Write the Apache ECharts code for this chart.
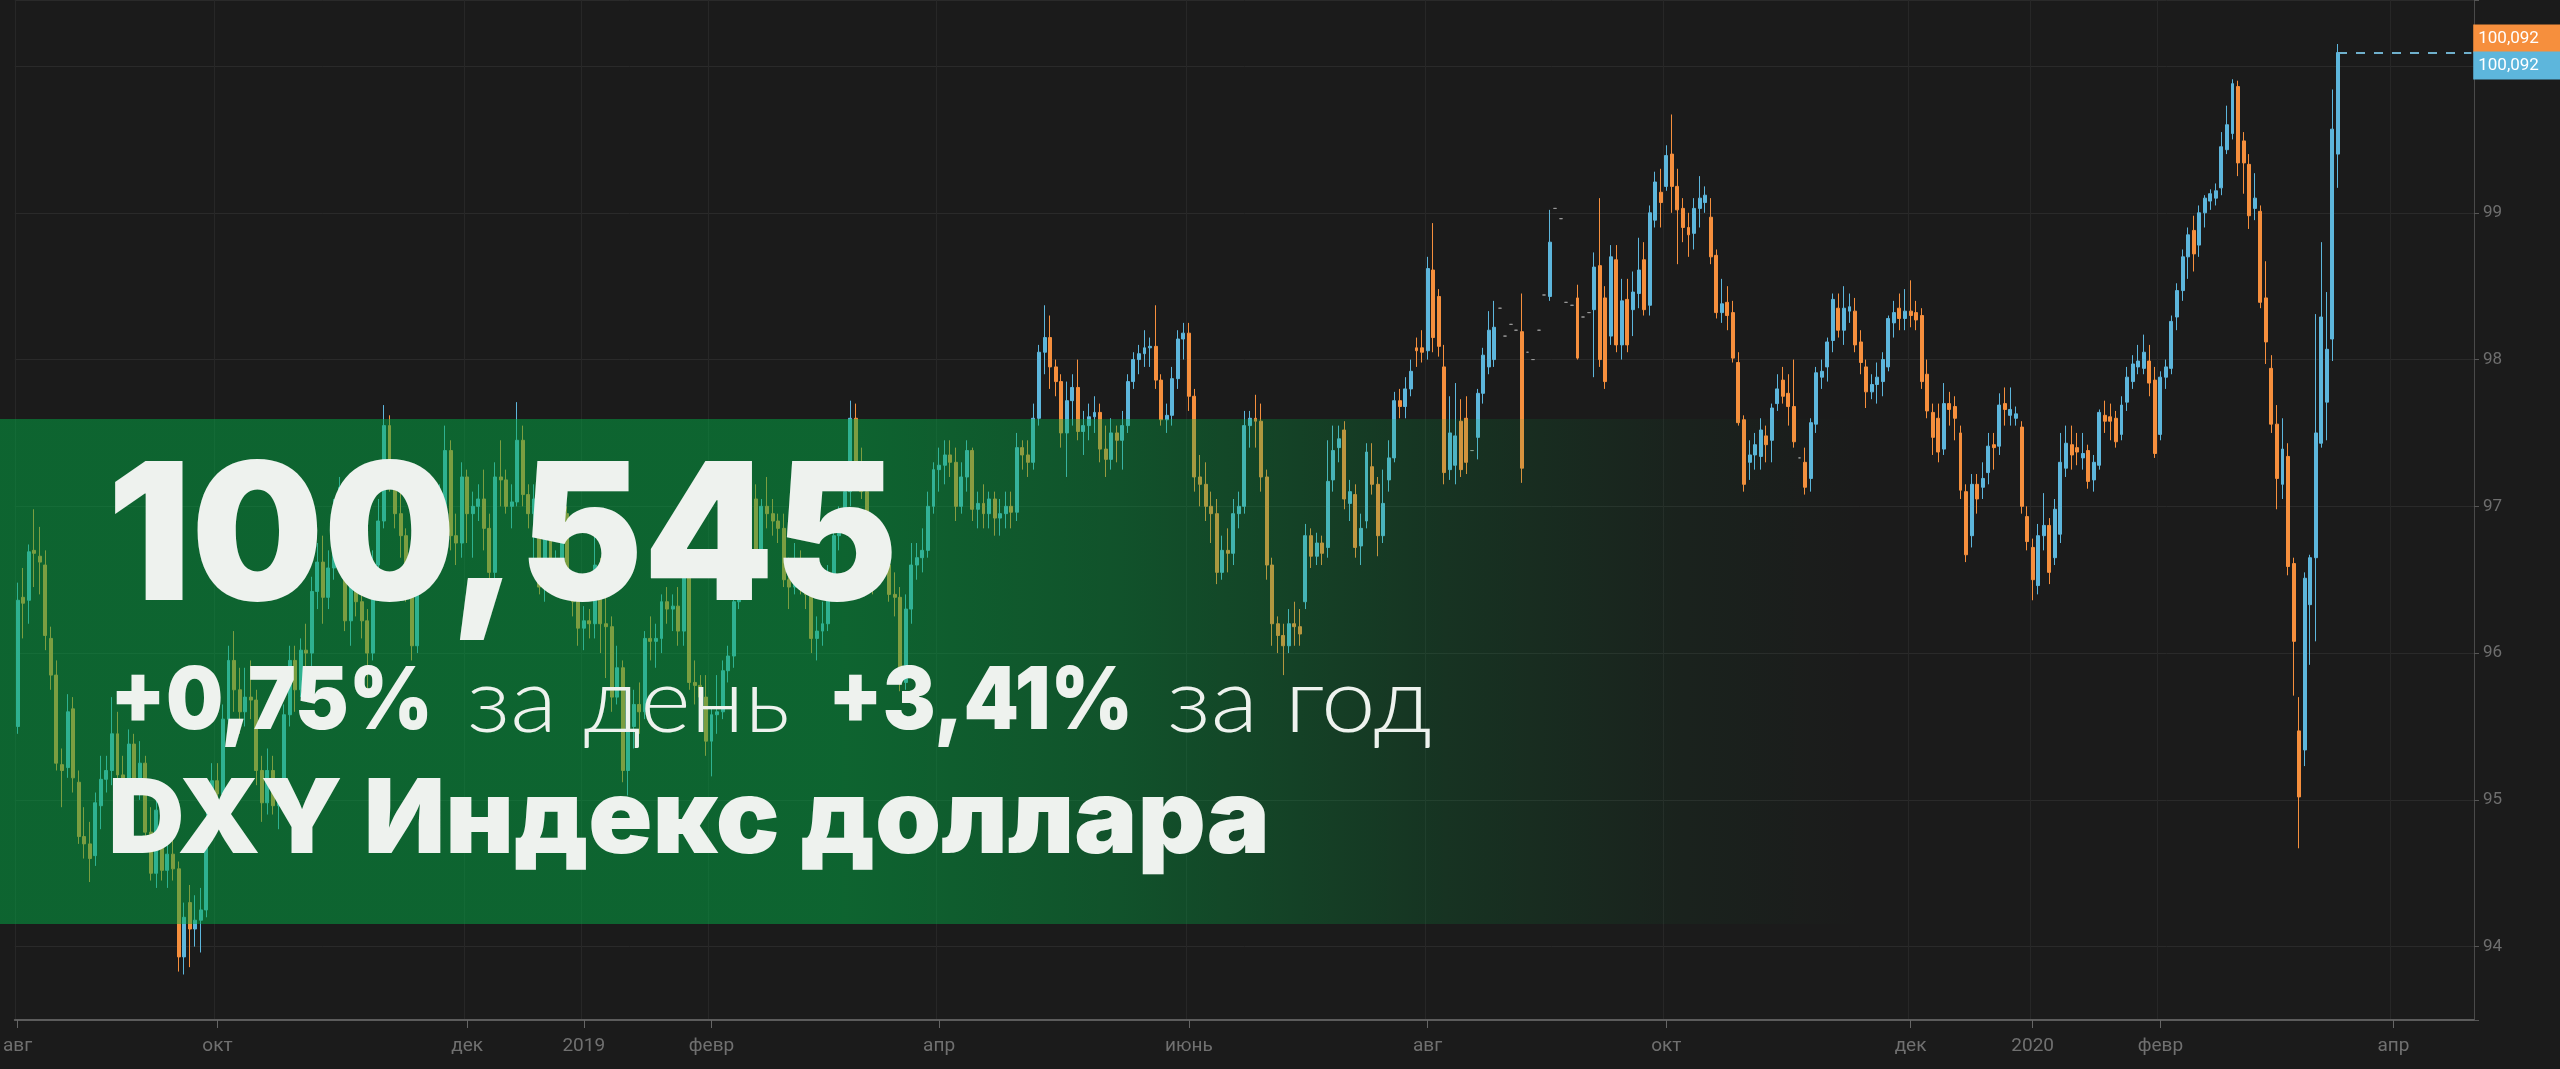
<!DOCTYPE html>
<html>
<head>
<meta charset="utf-8">
<script src="https://cdn.jsdelivr.net/npm/echarts@6/dist/echarts.min.js"></script>
<style>
  html, body { margin: 0; padding: 0; background: #1b1b1b; }
  #chart { width: 2560px; height: 1069px; }
</style>
</head>
<body>
<div id="chart"></div>
<script>
// ---------- DATA ----------
// x axis: one category per weekday starting here
const START_DATE = '2018-08-10';
const CATEGORY_COUNT = 443;

// tick labels shown on the x axis (date -> label)
const tickLabels = [
  ['2018-08-10', 'авг'], ['2018-10-01', 'окт'], ['2018-12-03', 'дек'], ['2019-01-01', '2019'],
  ['2019-02-01', 'февр'], ['2019-04-01', 'апр'], ['2019-06-03', 'июнь'], ['2019-08-01', 'авг'],
  ['2019-10-01', 'окт'], ['2019-12-02', 'дек'], ['2020-01-01', '2020'], ['2020-02-03', 'февр'],
  ['2020-04-01', 'апр']
];

// daily candles [open, close, low, high]
const aug2018 = [
  [95.50,96.36,95.45,96.48],[96.38,96.34,96.10,96.58],[96.36,96.69,96.20,96.74],[96.70,96.68,96.45,96.98],
  [96.66,96.62,96.40,96.86],[96.60,96.12,96.02,96.70],[96.10,95.85,95.75,96.18],[95.85,95.25,95.20,95.95],
  [95.24,95.20,94.95,95.35],[95.22,95.60,95.15,95.72],[95.62,95.15,95.05,95.70],[95.12,94.75,94.70,95.20],
  [94.75,94.70,94.60,94.95],[94.70,94.60,94.44,94.85],[94.62,94.98,94.55,95.05],[94.96,95.14,94.80,95.30]
];
const sep2018 = [
  [95.14,95.20,95.05,95.30],[95.20,95.45,95.10,95.70],[95.45,95.17,95.05,95.60],[95.17,95.07,94.95,95.30],
  [95.07,95.38,94.90,95.48],[95.38,95.12,95.05,95.45],[95.12,95.25,95.00,95.40],[95.25,94.78,94.72,95.30],
  [94.78,94.50,94.45,94.95],[94.50,94.93,94.40,95.00],[94.93,94.52,94.45,95.00],[94.52,94.63,94.40,94.75],
  [94.63,94.53,94.45,94.75],[94.53,93.93,93.83,94.58],[93.93,94.20,93.81,94.30],[94.30,94.12,93.86,94.42],
  [94.12,94.18,94.00,94.35],[94.18,94.25,93.96,94.40],[94.25,94.85,94.20,94.95],[94.85,95.13,94.75,95.25]
];
const oct2018 = [
  [95.13,95.04,94.80,95.25],[95.04,95.55,94.95,95.65],[95.55,95.95,95.45,96.05],[95.95,95.75,95.60,96.15],
  [95.75,95.60,95.45,95.90],[95.60,95.70,95.50,95.90],[95.70,95.68,95.55,95.95],[95.68,95.20,95.10,95.75],
  [95.20,94.98,94.85,95.30],[94.98,95.20,94.90,95.35],[95.20,94.96,94.90,95.30],[94.96,95.00,94.80,95.10],
  [95.00,95.58,94.95,95.65],[95.58,95.95,95.50,96.05],[95.95,95.75,95.60,96.05],[95.75,96.02,95.70,96.10],
  [96.02,96.00,95.80,96.20],[96.00,96.42,95.90,96.52],[96.42,96.62,96.30,96.75],[96.62,96.38,96.20,96.80],
  [96.38,96.58,96.30,96.70],[96.58,96.96,96.50,97.05],[96.96,97.13,96.85,97.20]
];
const nov2018 = [
  [97.13,96.22,96.15,97.15],[96.22,96.52,96.05,96.65],[96.52,96.35,96.25,96.60],[96.35,96.22,96.10,96.45],
  [96.22,96.00,95.70,96.30],[96.00,96.60,95.95,96.70],[96.60,96.90,96.50,97.05],[96.90,97.55,96.85,97.69],
  [97.55,97.25,97.10,97.62],[97.25,96.95,96.85,97.30],[96.95,96.80,96.65,97.10],[96.80,96.45,96.35,96.85],
  [96.45,96.05,95.95,96.50],[96.05,96.80,96.00,96.90],[96.80,96.65,96.50,96.90],[96.65,96.72,96.55,96.85],
  [96.72,96.95,96.60,97.05],[96.95,97.00,96.80,97.15],[97.00,97.38,96.95,97.55],[97.38,96.80,96.70,97.45],
  [96.80,96.75,96.60,96.95],[96.75,97.20,96.65,97.30]
];
const dec2018 = [
  [97.20,96.95,96.75,97.25],[96.95,97.00,96.65,97.10],[97.00,97.05,96.90,97.15],[97.05,96.85,96.70,97.25],
  [96.85,96.55,96.40,96.95],[96.55,97.20,96.50,97.30],[97.20,97.18,97.00,97.45],[97.18,97.00,96.95,97.25],
  [97.00,97.03,96.85,97.15],[97.03,97.45,97.00,97.71],[97.45,97.08,97.00,97.55],[97.08,96.95,96.85,97.15],
  [96.95,97.05,96.60,97.15],[97.05,96.45,96.40,97.10],[96.45,96.95,96.35,97.00],[96.95,96.55,96.45,97.00],
  [96.55,96.58,96.45,96.70],[96.58,96.95,96.50,97.10],[96.95,96.45,96.40,97.00],[96.45,96.35,96.25,96.55],
  [96.35,96.17,96.05,96.45],[96.17,96.22,96.02,96.32]
];
const jan2019 = [
  [96.22,96.20,96.10,96.30],[96.20,96.60,96.10,96.80],[96.60,96.20,96.00,96.65],[96.20,96.18,95.83,96.40],
  [96.18,95.70,95.60,96.25],[95.70,95.90,95.65,96.05],[95.90,95.20,95.12,95.95],[95.20,95.50,95.03,95.60],
  [95.50,95.65,95.35,95.75],[95.65,95.60,95.45,95.80],[95.60,96.10,95.55,96.15],[96.10,96.08,95.95,96.25],
  [96.08,96.10,95.90,96.20],[96.10,96.35,96.00,96.40],[96.35,96.30,96.20,96.45],[96.30,96.32,96.15,96.40],
  [96.32,96.15,96.05,96.45],[96.15,96.60,96.05,96.70],[96.60,95.80,95.75,96.65],[95.80,95.78,95.65,95.95],
  [95.78,95.70,95.55,95.85],[95.70,95.40,95.30,95.85],[95.40,95.58,95.16,95.62]
];
const feb2019 = [
  [95.58,95.60,95.45,95.85],[95.60,95.88,95.55,95.95],[95.88,95.98,95.80,96.05],[95.98,96.35,95.90,96.40],
  [96.35,96.50,96.30,96.60],[96.50,96.60,96.40,96.70],[96.60,97.05,96.55,97.10],[97.05,96.70,96.65,97.15],
  [96.70,97.00,96.65,97.05],[97.00,96.95,96.85,97.20],[96.95,96.90,96.80,97.05],[96.90,96.85,96.75,96.95],
  [96.85,96.50,96.45,96.95],[96.50,96.45,96.30,96.65],[96.45,96.62,96.40,96.75],[96.62,96.50,96.40,96.70],
  [96.50,96.40,96.30,96.60],[96.40,96.10,96.00,96.50],[96.10,96.15,95.95,96.25],[96.15,96.20,96.05,96.35]
];
const mar2019 = [
  [96.20,96.52,96.15,96.60],[96.52,96.80,96.45,96.90],[96.80,96.90,96.70,97.00],[96.90,97.10,96.85,97.20],
  [97.10,97.60,97.00,97.72],[97.60,97.30,97.20,97.70],[97.30,97.10,97.05,97.40],[97.10,96.75,96.70,97.15],
  [96.75,96.50,96.40,96.85],[96.50,96.70,96.45,96.80],[96.70,96.60,96.50,96.80],[96.60,96.40,96.35,96.70],
  [96.40,96.38,96.25,96.55],[96.38,95.80,95.74,96.45],[95.80,96.30,95.75,96.40],[96.30,96.60,96.20,96.75],
  [96.60,96.65,96.50,96.75],[96.65,96.70,96.55,96.85],[96.70,97.00,96.65,97.10],[97.00,97.25,96.95,97.30],
  [97.25,97.28,97.10,97.40]
];
const apr2019 = [
  [97.28,97.35,97.15,97.45],[97.35,97.30,97.20,97.45],[97.30,97.00,96.90,97.40],[97.00,97.20,96.95,97.30],
  [97.20,97.38,97.10,97.45],[97.38,96.98,96.90,97.40],[96.98,97.02,96.85,97.10],[97.02,96.95,96.85,97.15],
  [96.95,97.05,96.85,97.10],[97.05,96.92,96.80,97.10],[96.92,96.95,96.80,97.05],[96.95,97.00,96.85,97.10],
  [97.00,96.96,96.85,97.10],[96.96,97.40,96.90,97.50],[97.40,97.35,97.25,97.45],[97.35,97.30,97.20,97.45],
  [97.30,97.60,97.25,97.70],[97.60,98.05,97.55,98.10],[98.05,98.15,97.90,98.37],[98.15,97.95,97.80,98.30],
  [97.95,97.85,97.75,98.00],[97.85,97.50,97.40,97.90]
];
const may2019 = [
  [97.50,97.72,97.20,97.85],[97.72,97.81,97.55,97.90],[97.81,97.51,97.45,98.00],[97.51,97.55,97.35,97.65],
  [97.55,97.61,97.45,97.70],[97.61,97.64,97.50,97.75],[97.64,97.39,97.30,97.70],[97.39,97.32,97.20,97.55],
  [97.32,97.50,97.25,97.60],[97.50,97.45,97.30,97.55],[97.45,97.55,97.25,97.65],[97.55,97.85,97.50,97.90],
  [97.85,98.00,97.80,98.05],[98.00,98.04,97.90,98.10],[98.04,98.08,97.95,98.20],[98.08,98.09,97.95,98.15],
  [98.09,97.86,97.80,98.37],[97.86,97.59,97.55,97.90],[97.59,97.62,97.50,97.70],[97.62,97.87,97.55,97.95],
  [97.87,98.14,97.80,98.20],[98.14,98.18,98.00,98.25],[98.18,97.75,97.65,98.25]
];
const jun2019 = [
  [97.75,97.20,97.10,97.80],[97.20,97.15,97.00,97.35],[97.15,97.00,96.90,97.30],[97.00,96.95,96.75,97.10],
  [96.95,96.55,96.47,97.05],[96.55,96.70,96.50,96.80],[96.70,96.68,96.55,96.85],[96.68,96.95,96.60,97.05],
  [96.95,97.00,96.85,97.10],[97.00,97.55,96.95,97.65],[97.55,97.60,97.40,97.65],[97.60,97.58,97.40,97.76],
  [97.58,97.20,97.10,97.70],[97.20,96.60,96.50,97.25],[96.60,96.20,96.05,96.65],[96.20,96.12,96.00,96.25],
  [96.12,96.05,95.85,96.20],[96.05,96.20,96.00,96.30],[96.20,96.18,96.05,96.35],[96.18,96.13,96.05,96.30]
];
const jul2019 = [
  [96.35,96.80,96.30,96.88],[96.80,96.66,96.58,96.85],[96.66,96.75,96.60,96.82],[96.75,96.68,96.60,96.80],
  [96.72,97.17,96.65,97.45],[97.18,97.38,97.10,97.55],[97.40,97.46,97.30,97.55],[97.52,97.05,96.98,97.58],
  [97.02,97.10,96.90,97.18],[97.08,96.72,96.65,97.15],[96.73,96.85,96.60,96.95],[96.90,97.37,96.85,97.43],
  [97.27,97.15,97.08,97.43],[97.15,96.80,96.66,97.20],[96.80,97.02,96.75,97.25],[97.18,97.33,97.10,97.45],
  [97.33,97.72,97.30,97.78],[97.72,97.68,97.60,97.80],[97.68,97.80,97.60,97.88],[97.80,97.92,97.75,98.00],
  [98.08,98.06,97.95,98.15],[98.08,98.05,97.98,98.20]
];
const aug2019 = [
  [98.06,98.62,98.00,98.70],[98.61,98.15,98.05,98.93],[98.43,98.09,98.02,98.48],[97.95,97.23,97.15,98.10],
  [97.25,97.50,97.18,97.75],[97.28,97.48,97.15,97.84],[97.58,97.25,97.20,97.73],[97.60,97.30,97.22,97.75],
  [97.38,97.38,97.38,97.38],[97.47,97.77,97.32,97.80],[97.77,98.03,97.70,98.08],[97.95,98.20,97.90,98.33],
  [98.00,98.22,97.95,98.40],[98.35,98.35,98.35,98.35],[98.16,98.16,98.16,98.16],[98.24,98.24,98.24,98.24],
  [98.20,98.20,98.20,98.20],[98.19,97.26,97.16,98.45],[98.05,98.05,98.05,98.05],[98.00,98.00,98.00,98.00],
  [98.20,98.20,98.20,98.20],[98.44,98.44,98.44,98.44]
];
const sep2019 = [
  [98.43,98.80,98.40,99.02],[99.03,99.03,99.03,99.03],[98.96,98.96,98.96,98.96],[98.39,98.39,98.39,98.39],
  [98.37,98.37,98.37,98.37],[98.42,98.01,98.00,98.51],[98.29,98.29,98.29,98.29],[98.32,98.32,98.32,98.32],
  [98.34,98.63,97.88,98.73],[98.64,98.00,97.95,99.10],[98.42,97.85,97.80,98.50],[98.16,98.70,98.10,98.78],
  [98.68,98.10,98.05,98.78],[98.10,98.40,98.00,98.55],[98.41,98.10,98.05,98.55],[98.34,98.46,98.16,98.60],
  [98.45,98.61,98.35,98.83],[98.68,98.34,98.30,98.80],[98.37,99.00,98.30,99.05],[98.95,99.21,98.90,99.28],
  [99.14,99.07,98.90,99.30]
];
const oct2019 = [
  [99.18,99.39,99.15,99.46],[99.40,99.18,99.00,99.67],[99.18,99.02,98.65,99.30],[99.03,98.90,98.80,99.10],
  [98.90,98.85,98.70,99.00],[98.86,99.03,98.75,99.10],[99.03,99.10,98.90,99.25],[99.07,99.12,99.00,99.18],
  [98.97,98.70,98.65,99.10],[98.71,98.32,98.28,98.75],[98.32,98.38,98.25,98.55],[98.39,98.30,98.20,98.50],
  [98.32,98.01,97.98,98.40],[97.98,97.57,97.55,98.05],[97.59,97.15,97.10,97.62],[97.30,97.35,97.18,97.45],
  [97.35,97.42,97.25,97.50],[97.34,97.52,97.25,97.60],[97.48,97.42,97.30,97.55],[97.45,97.67,97.30,97.70],
  [97.70,97.80,97.65,97.90],[97.86,97.75,97.70,97.95],[97.77,97.68,97.55,97.90]
];
const nov2019 = [
  [97.68,97.44,97.40,98.00],[97.33,97.33,97.33,97.33],[97.30,97.13,97.08,97.40],[97.19,97.57,97.10,97.60],
  [97.56,97.91,97.50,97.95],[97.88,97.92,97.80,98.00],[97.95,98.12,97.85,98.15],[98.13,98.41,98.05,98.45],
  [98.35,98.20,98.15,98.45],[98.20,98.35,98.10,98.50],[98.33,98.36,98.25,98.45],[98.33,98.10,98.05,98.42],
  [98.12,97.98,97.90,98.20],[97.95,97.78,97.67,98.00],[97.78,97.83,97.73,97.90],[97.83,97.88,97.70,97.98],
  [97.85,98.00,97.75,98.05],[97.95,98.28,97.92,98.30],[98.25,98.32,98.15,98.40],[98.35,98.28,98.20,98.45],
  [98.28,98.33,98.20,98.48]
];
const dec2019 = [
  [98.33,98.30,98.22,98.54],[98.32,98.27,98.20,98.40],[98.30,97.85,97.80,98.35],[97.90,97.65,97.60,98.00],
  [97.64,97.47,97.35,97.70],[97.60,97.37,97.30,97.70],[97.39,97.70,97.35,97.84],[97.70,97.66,97.55,97.78],
  [97.68,97.60,97.45,97.75],[97.50,97.11,97.05,97.55],[97.10,96.67,96.62,97.15],[96.80,97.15,96.72,97.22],
  [97.15,97.05,96.95,97.22],[97.13,97.19,97.05,97.30],[97.23,97.41,97.15,97.50],[97.42,97.40,97.25,97.50],
  [97.41,97.69,97.35,97.77],[97.70,97.66,97.55,97.81],[97.62,97.66,97.55,97.81],[97.60,97.63,97.55,97.68],
  [97.54,97.00,96.95,97.58],[96.93,96.76,96.70,97.00]
];
const jan2020 = [
  [96.72,96.50,96.36,96.78],[96.46,96.80,96.40,96.88],[96.80,96.87,96.70,97.09],[96.87,96.55,96.47,96.92],
  [96.65,96.98,96.60,97.05],[96.81,97.30,96.75,97.50],[97.26,97.43,97.20,97.55],[97.42,97.35,97.25,97.55],
  [97.40,97.37,97.28,97.50],[97.33,97.36,97.25,97.50],[97.38,97.17,97.12,97.42],[97.18,97.30,97.10,97.35],
  [97.28,97.64,97.25,97.66],[97.62,97.58,97.50,97.72],[97.61,97.58,97.45,97.70],[97.60,97.44,97.40,97.65],
  [97.49,97.69,97.45,97.75],[97.71,97.88,97.65,97.95],[97.85,97.97,97.80,98.03],[97.95,97.99,97.90,98.10],
  [97.94,98.05,97.90,98.17],[97.99,97.84,97.75,98.10],[97.86,97.36,97.33,97.95]
];
const feb2020 = [
  [97.49,97.88,97.45,97.92],[97.88,97.95,97.80,98.00],[97.94,98.26,97.90,98.30],[98.29,98.47,98.20,98.52],
  [98.47,98.70,98.40,98.75],[98.70,98.85,98.55,98.90],[98.88,98.72,98.60,98.98],[98.78,99.00,98.70,99.05],
  [99.00,99.10,98.90,99.12],[99.08,99.13,99.02,99.16],[99.10,99.15,99.05,99.20],[99.17,99.45,99.12,99.55],
  [99.43,99.60,99.40,99.73],[99.54,99.88,99.50,99.91],[99.86,99.34,99.25,99.90],[99.49,99.34,99.13,99.55],
  [99.33,98.98,98.89,99.40],[99.03,99.10,98.95,99.27],[99.01,98.39,98.35,99.05],[98.42,98.12,97.97,98.67]
];
const mar2020 = [
  [97.94,97.56,97.50,98.03],[97.56,97.19,96.98,97.69],[97.15,97.39,97.05,97.60],[97.34,96.59,96.53,97.43],
  [96.61,96.08,95.71,96.65],[95.47,95.02,94.67,95.70],[95.34,96.51,95.23,96.55],[96.33,96.65,95.92,96.67],
  [96.65,97.50,96.08,98.31],[97.43,98.29,97.40,98.80],[97.71,98.07,97.45,98.46],[98.14,99.57,97.99,99.84],
  [99.40,100.092,99.17,100.15]
];

// headline texts
const headlineValue = '100,545';
const dayChange = '+0,75%';
const dayLabel = 'за день';
const yearChange = '+3,41%';
const yearLabel = 'за год';
const titleText = 'DXY Индекс доллара';

// ---------- BUILD ----------
const candles = [].concat(aug2018, sep2018, oct2018, nov2018, dec2018, jan2019, feb2019, mar2019,
  apr2019, may2019, jun2019, jul2019, aug2019, sep2019, oct2019, nov2019, dec2019, jan2020, feb2020, mar2020);

function weekdays(startISO, count) {
  const out = [];
  const d = new Date(startISO + 'T00:00:00Z');
  while (out.length < count) {
    const w = d.getUTCDay();
    if (w !== 0 && w !== 6) out.push(d.toISOString().slice(0, 10));
    d.setUTCDate(d.getUTCDate() + 1);
  }
  return out;
}
const categories = weekdays(START_DATE, CATEGORY_COUNT);
const tickMap = Object.fromEntries(tickLabels);
const isTick = (idx, val) => Object.prototype.hasOwnProperty.call(tickMap, val);

const lastIdx = candles.length - 1;
const lastClose = candles[lastIdx][1];
const priceText = lastClose.toFixed(3).replace('.', ',');

const UP = '#5db6dc', DOWN = '#f68f3d';
const TEXT = '#eef2ee';
const BOLD_FONT = 'Inter, "Noto Sans", sans-serif';
const LIGHT_FONT = 'Lato, "Open Sans", sans-serif';

const mctx = document.createElement('canvas').getContext('2d');
function fitScale(text, family, weight, size, target) {
  mctx.font = weight + ' ' + size + 'px ' + family;
  const w = mctx.measureText(text).width;
  return w > 0 ? target / w : 1;
}
function headText(text, family, weight, size, x, cy, targetW) {
  return {
    type: 'text', z: 20, silent: true, x: x, y: cy,
    scaleX: fitScale(text, family, weight, size, targetW), scaleY: 1,
    style: { text: text, fill: TEXT, fontFamily: family, fontWeight: weight, fontSize: size,
             align: 'left', verticalAlign: 'middle' }
  };
}

const chart = echarts.init(document.getElementById('chart'), null, { renderer: 'canvas' });

const priceLabel = (bg, dy) => ({
  show: true, position: 'end', distance: 2, formatter: priceText,
  backgroundColor: bg, color: '#ffffff', fontFamily: 'Roboto, sans-serif', fontSize: 17,
  lineHeight: 17, padding: [6, 24, 5, 5], offset: [0, dy]
});
const priceLine = { color: '#6fb0cc', type: [9, 9], width: 2 };

chart.setOption({
  animation: false,
  backgroundColor: '#1b1b1b',
  grid: { left: 0, right: 86, top: 0, bottom: 49, containLabel: false },
  xAxis: {
    type: 'category', data: categories, boundaryGap: true,
    axisLine: { show: true, lineStyle: { color: '#5c5c5c', width: 2 } },
    axisTick: { show: true, alignWithLabel: true, interval: isTick, length: 8, lineStyle: { color: '#666666' } },
    axisLabel: { show: true, interval: isTick, formatter: v => tickMap[v] || '', color: '#707070',
                 fontFamily: 'Roboto, sans-serif', fontSize: 19, margin: 17, alignMinLabel: 'center' },
    splitLine: { show: true, interval: isTick, lineStyle: { color: '#272727', width: 1 } }
  },
  yAxis: {
    type: 'value', position: 'right', min: 93.5, max: 100.45, splitNumber: 7, scale: true,
    axisLine: { show: true, lineStyle: { color: '#4a4a4a', width: 1 } },
    axisTick: { show: true, length: 5, lineStyle: { color: '#555555' } },
    axisLabel: { show: true, color: '#6e6e6e', fontFamily: 'Roboto, sans-serif', fontSize: 17, margin: 9,
                 formatter: v => (Math.abs(v - Math.round(v)) < 1e-6 && v < 99.5) ? String(Math.round(v)) : '' },
    splitLine: { show: true, lineStyle: { color: '#2a2a2a', width: 1 } }
  },
  series: [{
    type: 'candlestick', data: candles, clip: false, barWidth: '62%',
    itemStyle: { color: UP, color0: DOWN, borderColor: UP, borderColor0: DOWN,
                 borderColorDoji: '#9a9a9a', borderWidth: 1 },
    markLine: {
      silent: true, symbol: ['none', 'none'], animation: false,
      data: [
        [{ coord: [categories[lastIdx], lastClose], lineStyle: priceLine, label: priceLabel(DOWN, -14) },
         { coord: [categories[CATEGORY_COUNT - 1], lastClose] }],
        [{ coord: [categories[lastIdx], lastClose], lineStyle: priceLine, label: priceLabel(UP, 13) },
         { coord: [categories[CATEGORY_COUNT - 1], lastClose] }]
      ]
    }
  }],
  graphic: [
    { type: 'rect', z: 15, silent: true, shape: { x: 0, y: 419, width: 1862, height: 505 },
      style: { fill: { type: 'linear', x: 0, y: 0, x2: 1, y2: 0, colorStops: [
        { offset: 0, color: 'rgba(0,173,69,0.5)' },
        { offset: 0.45, color: 'rgba(0,173,69,0.5)' },
        { offset: 0.6, color: 'rgba(0,173,69,0.38)' },
        { offset: 0.78, color: 'rgba(0,173,69,0.16)' },
        { offset: 0.9, color: 'rgba(0,173,69,0.05)' },
        { offset: 1, color: 'rgba(0,173,69,0)' } ] } } },
    headText(headlineValue, BOLD_FONT, 900, 191, 107, 543, 791),
    headText(dayChange, BOLD_FONT, 900, 87, 110, 703, 323),
    headText(dayLabel, LIGHT_FONT, 300, 90, 467, 703, 323),
    headText(yearChange, BOLD_FONT, 900, 87, 828, 703, 305),
    headText(yearLabel, LIGHT_FONT, 300, 90, 1167, 703, 265),
    headText(titleText, BOLD_FONT, 900, 103, 108, 822, 1162)
  ]
});
</script>
</body>
</html>
